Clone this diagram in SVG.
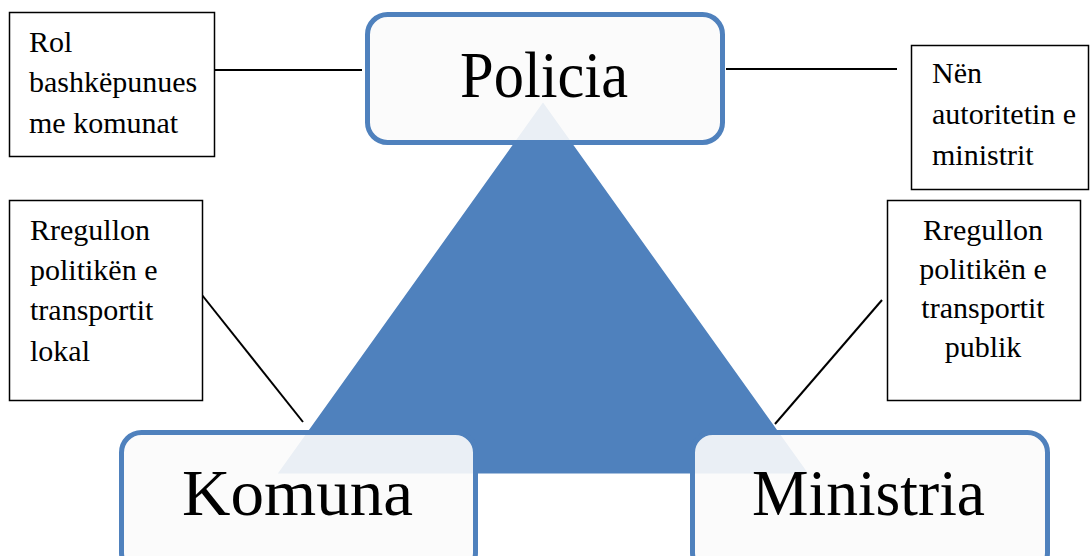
<svg xmlns="http://www.w3.org/2000/svg" width="1091" height="556" viewBox="0 0 1091 556">
  <style>
    .main { fill: #fbfbfb; fill-opacity: 0.9; stroke: #4f81bd; stroke-width: 5; }
    .title { font-family: "Liberation Serif", "DejaVu Serif", serif; font-size: 66px; fill: #000; }
    .note { fill: #fff; stroke: #000; stroke-width: 1.5; }
    .lbl { font-family: "Liberation Serif", "DejaVu Serif", serif; font-size: 30px; fill: #000; }
    .conn { stroke: #000; stroke-width: 2; fill: none; }
  </style>
  <rect width="1091" height="556" fill="#fff"/>
  <g id="triangle">
    <polygon points="543,100 275,475 811,475" fill="#4f81bd" stroke="#fff" stroke-width="3" stroke-linejoin="miter"/>
  </g>
  <g id="policia">
    <rect class="main" x="367.5" y="14.5" width="355" height="128" rx="20"/>
    <text class="title" x="460" y="97" textLength="168" lengthAdjust="spacingAndGlyphs">Policia</text>
  </g>
  <g id="komuna">
    <rect class="main" x="121.5" y="432.5" width="354" height="140" rx="20"/>
    <text class="title" x="182" y="515" textLength="231" lengthAdjust="spacingAndGlyphs">Komuna</text>
  </g>
  <g id="ministria">
    <rect class="main" x="692.5" y="432.5" width="355" height="140" rx="20"/>
    <text class="title" x="752" y="515" textLength="233" lengthAdjust="spacingAndGlyphs">Ministria</text>
  </g>
  <g id="connectors">
    <line class="conn" x1="215" y1="70" x2="362" y2="70"/>
    <line class="conn" x1="726" y1="69" x2="897" y2="69"/>
    <line class="conn" x1="202" y1="295" x2="303" y2="422"/>
    <line class="conn" x1="882" y1="300" x2="775" y2="424"/>
  </g>
  <g id="note-rol">
    <rect class="note" x="9.5" y="12.5" width="205" height="144"/>
    <text class="lbl" x="29" y="52">Rol</text>
    <text class="lbl" x="29" y="92">bashkëpunues</text>
    <text class="lbl" x="29" y="133">me komunat</text>
  </g>
  <g id="note-nen">
    <rect class="note" x="911.5" y="45.5" width="177" height="144"/>
    <text class="lbl" x="932" y="83">Nën</text>
    <text class="lbl" x="932" y="124">autoritetin e</text>
    <text class="lbl" x="932" y="165">ministrit</text>
  </g>
  <g id="note-lokal">
    <rect class="note" x="9.5" y="200.5" width="193" height="200"/>
    <text class="lbl" x="30" y="240">Rregullon</text>
    <text class="lbl" x="30" y="280">politikën e</text>
    <text class="lbl" x="30" y="320">transportit</text>
    <text class="lbl" x="30" y="361">lokal</text>
  </g>
  <g id="note-publik">
    <rect class="note" x="887.5" y="200.5" width="193" height="200"/>
    <text class="lbl" x="983" y="240" text-anchor="middle">Rregullon</text>
    <text class="lbl" x="983" y="279" text-anchor="middle">politikën e</text>
    <text class="lbl" x="983" y="318" text-anchor="middle">transportit</text>
    <text class="lbl" x="983" y="357" text-anchor="middle">publik</text>
  </g>
</svg>
